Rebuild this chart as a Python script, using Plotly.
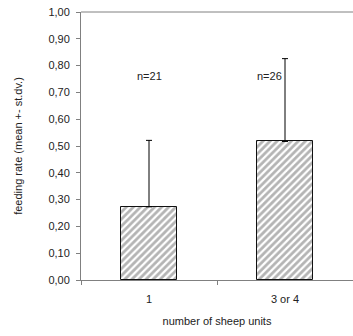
import plotly.graph_objects as go

# Feeding rate by number of sheep units (mean +- standard deviation)
categories = ["1", "3 or 4"]
means = [0.273, 0.517]
std_devs = [0.248, 0.309]
sample_labels = ["n=21", "n=26"]
label_height = 0.76

font_family = "Liberation Sans, Arial, sans-serif"
axis_grey = "#808080"
text_col = "#222222"

fig = go.Figure()
fig.add_trace(go.Bar(
    x=categories,
    y=means,
    width=0.41,
    marker=dict(
        color="white",
        line=dict(color="#111111", width=1),
        pattern=dict(shape="/", fgcolor="#6a6a6a", bgcolor="white",
                     size=5, solidity=0.55),
    ),
    error_y=dict(type="data", array=std_devs, symmetric=False,
                 arrayminus=[0, 0], color="black", thickness=1, width=3),
    showlegend=False,
))

# sample sizes, placed by category index
fig.add_annotation(x=0, y=label_height, text=sample_labels[0],
                   showarrow=False, xanchor="center", yanchor="middle",
                   font=dict(size=11, color=text_col, family=font_family))
fig.add_annotation(x=1, y=label_height, text=sample_labels[1],
                   showarrow=False, xanchor="right", yanchor="middle", xshift=-1,
                   font=dict(size=11, color=text_col, family=font_family))

# top border of the plotting area
fig.add_shape(type="line", xref="paper", yref="paper", x0=0, x1=1, y0=1, y1=1,
              line=dict(color=axis_grey, width=1))

fig.update_layout(
    width=353, height=336,
    margin=dict(l=81, r=0, t=12, b=56),
    paper_bgcolor="white", plot_bgcolor="white",
    separators=", ",
    font=dict(family=font_family, size=11, color=text_col),
    bargap=0.0,
)
fig.update_xaxes(
    type="category", range=[-0.5, 1.5],
    showline=True, linecolor=axis_grey, linewidth=1,
    ticks="outside", tickson="boundaries", ticklen=4, tickcolor=axis_grey,
    ticklabelstandoff=9,
    showgrid=False, zeroline=False,
    tickfont=dict(size=11, color=text_col),
    title=dict(text="number of sheep units", font=dict(size=11, color=text_col), standoff=13),
)
fig.update_yaxes(
    range=[0, 1], dtick=0.1, tickformat=".2f",
    showline=True, linecolor=axis_grey, linewidth=1,
    ticks="outside", ticklen=4, tickcolor=axis_grey,
    ticklabelstandoff=4,
    showgrid=False, zeroline=False,
    tickfont=dict(size=11, color=text_col),
    title=dict(text="feeding rate (mean +- st.dv.)", font=dict(size=11, color=text_col), standoff=23),
)

fig.write_html("out.html")
